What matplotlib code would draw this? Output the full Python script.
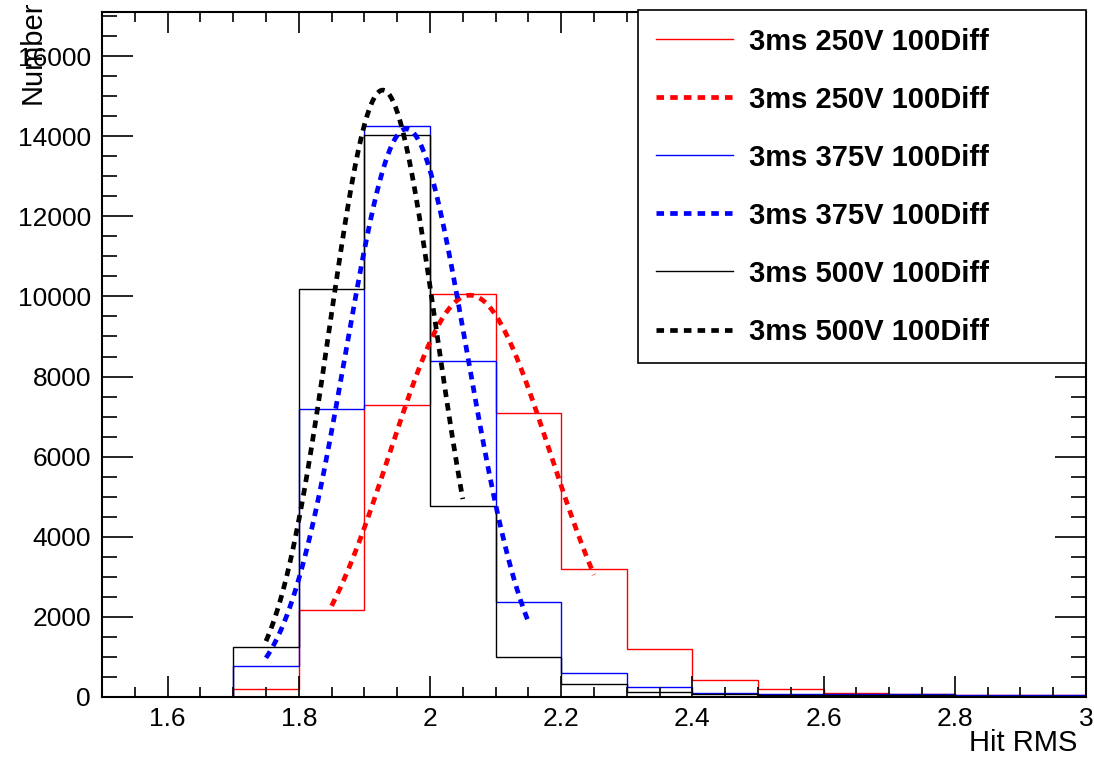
import numpy as np
import matplotlib
matplotlib.use("Agg")
import matplotlib.pyplot as plt
from matplotlib.ticker import MultipleLocator

plt.rcParams["font.family"] = ["Liberation Sans", "DejaVu Sans"]

# histogram binning (Hit RMS)
bin_edges = [1.5, 1.6, 1.7, 1.8, 1.9, 2.0, 2.1, 2.2, 2.3, 2.4, 2.5, 2.6, 2.7, 2.8, 2.9, 3.0]

counts_250 = [0, 0, 200, 2170, 7300, 10050, 7100, 3200, 1200, 430, 200, 95, 70, 52, 52]
counts_375 = [0, 0, 780, 7200, 14260, 8380, 2370, 610, 260, 95, 78, 70, 70, 52, 40]
counts_500 = [0, 0, 1250, 10180, 14020, 4780, 1000, 315, 125, 78, 60, 50, 40, 30, 25]

# gaussian fit results: amplitude, mean, sigma, fit range
fit_250 = {"amp": 10030, "mean": 2.061, "sigma": 0.1225, "lo": 1.85, "hi": 2.25}
fit_375 = {"amp": 14180, "mean": 1.964, "sigma": 0.0925, "lo": 1.75, "hi": 2.15}
fit_500 = {"amp": 15150, "mean": 1.928, "sigma": 0.0815, "lo": 1.75, "hi": 2.05}

labels = ["3ms 250V 100Diff", "3ms 375V 100Diff", "3ms 500V 100Diff"]
colors = ["#ff0000", "#0000ff", "#000000"]


def gaus(fit):
    x = np.linspace(fit["lo"], fit["hi"], 200)
    y = fit["amp"] * np.exp(-0.5 * ((x - fit["mean"]) / fit["sigma"]) ** 2)
    return x, y


fig = plt.figure(figsize=(10.94, 7.61), dpi=100)
ax = fig.add_axes([102 / 1094, 1 - 697 / 761, 984 / 1094, 685 / 761])

dotted = (0, (1.6, 1.3))
handles = []
for counts, label, c in zip([counts_250, counts_375, counts_500], labels, colors):
    h = ax.stairs(counts, bin_edges, color=c, linewidth=1.0, baseline=0, label=label)
    handles.append(h)
for i, (fit, label, c) in enumerate(zip([fit_250, fit_375, fit_500], labels, colors)):
    x, y = gaus(fit)
    (l,) = ax.plot(x, y, color=c, linewidth=3.4, linestyle=dotted, label=label)
    handles.insert(2 * i + 1, l)

ax.set_xlim(1.5, 3.0)
ax.set_ylim(0, 17100)

ax.xaxis.set_major_locator(MultipleLocator(0.2))
ax.xaxis.set_minor_locator(MultipleLocator(0.05))
ax.yaxis.set_major_locator(MultipleLocator(2000))
ax.yaxis.set_minor_locator(MultipleLocator(500))
ax.xaxis.set_major_formatter(plt.FuncFormatter(lambda v, p: f"{v:g}"))

ax.tick_params(axis="both", which="both", direction="in", top=True, right=True,
               labelsize=19, width=1.2)
ax.tick_params(axis="x", which="major", length=15, pad=7)
ax.tick_params(axis="x", which="minor", length=7.5)
ax.tick_params(axis="y", which="major", length=22, pad=8)
ax.tick_params(axis="y", which="minor", length=11)
for s in ax.spines.values():
    s.set_linewidth(1.5)

ax.set_xlabel("Hit RMS", fontsize=21, loc="right")
ax.xaxis.set_label_coords((1077 - 102) / 984, -0.047)
ax.set_ylabel("Number", fontsize=21, loc="top")
ax.yaxis.set_label_coords(-0.056, 1.017)

leg_top = 1 - 10 / 761
leg = ax.legend(handles=handles, loc="upper left",
                bbox_to_anchor=(638 / 1094, leg_top - 0.5, 448 / 1094, 0.5),
                bbox_transform=fig.transFigure, mode="expand",
                prop={"weight": "bold", "size": 21}, fancybox=False,
                edgecolor="black", framealpha=1, borderpad=0.6,
                labelspacing=1.03, handlelength=2.64, handletextpad=0.58,
                borderaxespad=0)
leg.get_frame().set_linewidth(1.2)

plt.savefig("out.png", dpi=100)
plt.close()
